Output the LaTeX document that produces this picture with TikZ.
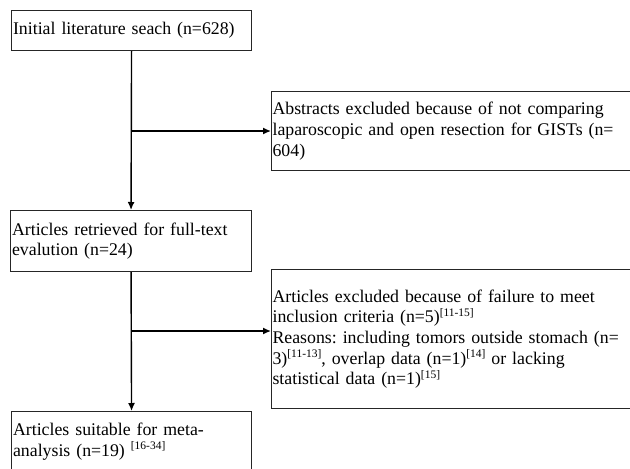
\documentclass[tikz,border=0pt]{standalone}
\usepackage{fontspec}
\setmainfont{Liberation Serif}
\frenchspacing
\usepackage{tikz}
\usetikzlibrary{arrows.meta}
\tikzset{
    stage/.style={draw=black!85, line width=1.1pt, anchor=north west, align=left,
        inner xsep=1.5pt, inner ysep=0pt, font=\fontsize{17.8}{20.6}\selectfont},
    flow/.style={-{Latex[length=8pt,width=7pt]}, line width=1.4pt}
}
\newcommand{\refmark}[1]{\raisebox{6.5pt}{\fontsize{11.5}{12}\selectfont[#1]}}

\begin{document}
\begin{tikzpicture}[x=1pt, y=-1pt]
    \useasboundingbox (0,0) rectangle (630,469);
    \clip (0,0) rectangle (630,469);

    % Left column
    \node[stage, text width=237pt, minimum height=40pt] (init) at (11,10)
        {Initial literature seach (n=628)};
    \node[stage, text width=238pt, minimum height=61pt] (full) at (10,210)
        {Articles retrieved for full-text\\evalution (n=24)};
    \node[stage, text width=237pt, minimum height=60pt] (meta) at (11,411)
        {Articles suitable for meta-\\analysis (n=19) \refmark{16-34}};

    % Excluded boxes
    \node[stage, text width=366pt, minimum height=79pt, inner xsep=1pt] (abst) at (271,91)
        {Abstracts excluded because of not comparing\\laparoscopic and open resection for GISTs (n=\\604)};
    \node[stage, text width=366pt, minimum height=139pt, inner xsep=1pt] (excl) at (271,269)
        {Articles excluded because of failure to meet\\
         inclusion criteria (n=5)\refmark{11-15}\\
         Reasons: including tomors outside stomach (n=\\
         3)\refmark{11-13}, overlap data (n=1)\refmark{14} or lacking\\
         statistical data (n=1)\refmark{15}};

    \coordinate (split1) at (131,131);
    \coordinate (split2) at (131,331);

    \draw[flow] (init.south) -- (full.north);
    \draw[flow] (full.south) -- (meta.north);
    \draw[flow] (split1) -- (split1 -| abst.west);
    \draw[flow] (split2) -- (split2 -| excl.west);

\end{tikzpicture}
\end{document}
